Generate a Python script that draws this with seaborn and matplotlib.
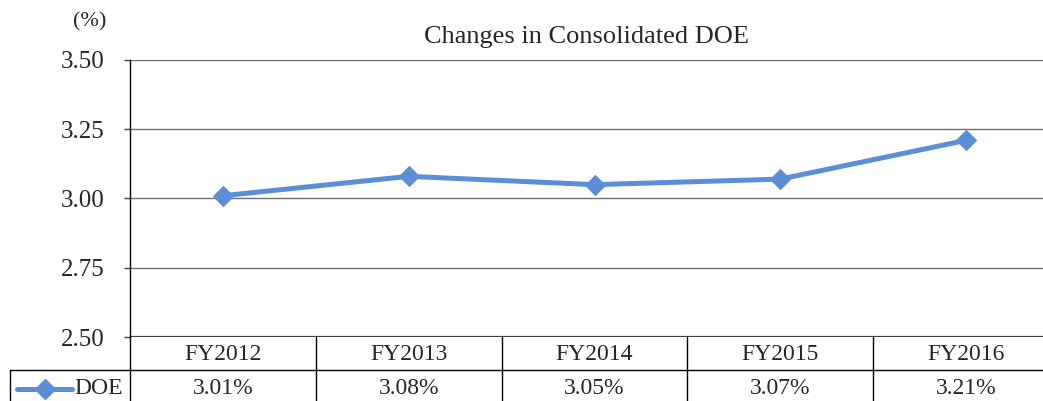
import numpy as np
import pandas as pd
import matplotlib
matplotlib.use("Agg")
import matplotlib.pyplot as plt
from matplotlib.lines import Line2D
import seaborn as sns

years = ["FY2012", "FY2013", "FY2014", "FY2015", "FY2016"]
doe = [3.01, 3.08, 3.05, 3.07, 3.21]
y_ticks = [2.50, 2.75, 3.00, 3.25, 3.50]
series_name = "DOE"
title = "Changes in Consolidated DOE"
unit = "(%)"

sns.set_style("white")
plt.rcParams['font.family'] = ['Liberation Serif', 'DejaVu Serif']
plt.rcParams['font.size'] = 12

W, H = 1043, 401
fig = plt.figure(figsize=(W / 100, H / 100), dpi=100)
# plot area in pixels: left 130, right 1059 (runs past the image edge), top 60, bottom 337
ax = fig.add_axes([130 / W, 1 - 337 / H, (1059 - 130) / W, (337 - 60) / H])

df = pd.DataFrame({"year": np.arange(len(years)), "DOE": doe})
color = "#5B8ED6"
sns.lineplot(data=df, x="year", y="DOE", ax=ax, color=color, linewidth=3.6,
             marker="D", markersize=10, markeredgecolor=color)

ax.set_xlim(-0.5, len(years) - 0.5)
ax.set_ylim(y_ticks[0], y_ticks[-1])
ax.set_yticks(y_ticks)
ax.set_yticklabels([f"{v:.2f}" for v in y_ticks], fontsize=18)
ax.set_xticks([])
ax.set_xlabel("")
ax.set_ylabel("")
for v in y_ticks[1:]:
    ax.axhline(v, color="#6f6f6f", linewidth=1.0, zorder=0)
ax.axhline(y_ticks[0], color="#404040", linewidth=1.6, zorder=1)
for side in ["top", "right", "bottom"]:
    ax.spines[side].set_visible(False)
ax.spines["left"].set_color("black")
ax.spines["left"].set_linewidth(1.0)
ax.tick_params(axis="y", direction="out", length=4.5, width=1, color="#404040", pad=14, left=True)

fig.text(587 / W, 1 - 37 / H, title, ha="center", va="center", fontsize=19)
fig.text(90 / W, 1 - 22 / H, unit, ha="center", va="center", fontsize=16)

# data table under the axis
row1_top, row1_bot, row2_bot = 337, 370, 405
col_edges = [130 + i * (1059 - 130) / len(years) for i in range(len(years) + 1)]

def fx(px):
    return px / W

def fy(py):
    return 1 - py / H

def line(x0, y0, x1, y1, c="black", lw=1.0):
    fig.add_artist(Line2D([fx(x0), fx(x1)], [fy(y0), fy(y1)], color=c, linewidth=lw))

for x in col_edges[1:]:
    line(x, row1_top, x, row2_bot)
line(130, row1_top, 130, row2_bot)
line(10, row1_bot, col_edges[-1], row1_bot)
line(10, row1_bot, 10, row2_bot)

for i, (yr, v) in enumerate(zip(years, doe)):
    cx = (col_edges[i] + col_edges[i + 1]) / 2
    fig.text(fx(cx), fy(354), yr, ha="center", va="center", fontsize=17)
    fig.text(fx(cx), fy(389), f"{v:.2f}%", ha="center", va="center", fontsize=17)

# legend key in the table
fig.add_artist(Line2D([fx(17), fx(72)], [fy(389), fy(389)], color=color, linewidth=3.6,
                      marker=None))
fig.add_artist(Line2D([fx(45)], [fy(389)], color=color, marker="D", markersize=10,
                      markeredgecolor=color, linestyle="none"))
fig.text(fx(74), fy(389), series_name, ha="left", va="center", fontsize=17)

fig.savefig("out.png", dpi=100)
